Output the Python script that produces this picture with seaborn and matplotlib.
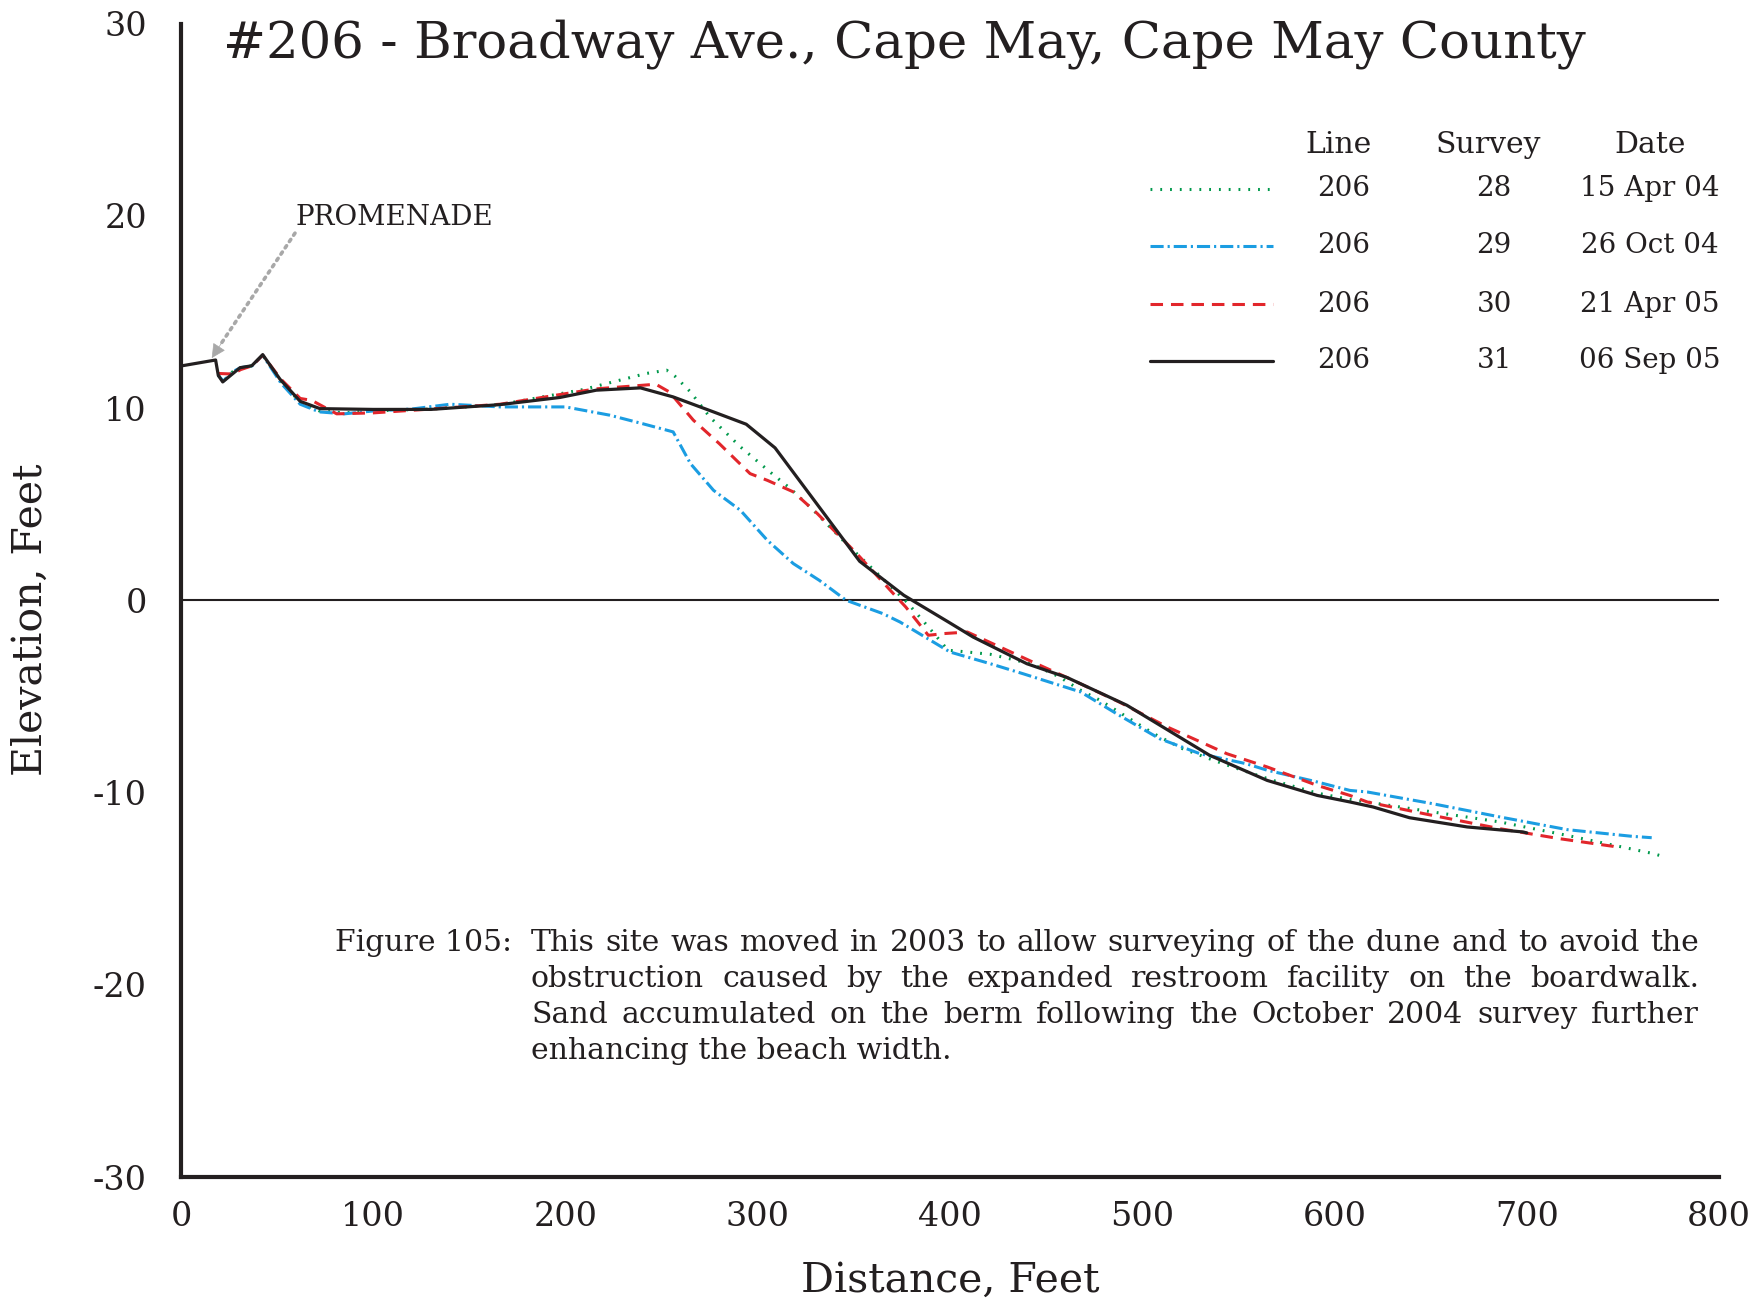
import matplotlib
matplotlib.use('Agg')
import matplotlib.pyplot as plt
import pandas as pd
import seaborn as sns

# Profile data (distance ft, elevation ft)
x_28 = [19.4, 22, 27, 31, 37, 42.5, 52, 62, 72, 85, 100, 130, 166, 209, 242, 252.6, 257, 265, 275, 291,
        308, 317, 329, 346, 357, 377.5, 391, 399, 404, 421, 431, 443, 457, 468, 478, 492, 506, 521, 537,
        547, 568, 591, 606, 617, 651, 686, 721, 766, 770]
y_28 = [11.7, 11.4, 11.9, 12.1, 12.2, 12.75, 11.4, 10.3, 9.85, 9.75, 9.85, 9.95, 10.18, 10.96, 11.8, 11.97,
        11.65, 10.84, 9.54, 7.98, 6.54, 5.81, 4.68, 2.95, 1.9, -0.09, -1.65, -2.6, -2.64, -2.81, -3.04,
        -3.33, -3.99, -4.68, -5.2, -6.07, -6.94, -7.72, -8.32, -8.67, -9.37, -10.03, -10.32, -10.49,
        -11.01, -11.53, -12.23, -13.18, -13.3]

x_29 = [19.4, 22, 27, 31, 37, 42.5, 52, 62, 72, 85, 100, 120, 140, 166, 200, 223, 240, 256, 265, 277,
        291, 305, 318.5, 332, 346, 365, 374, 384, 400, 421, 438, 468, 488, 509, 530, 554, 565, 591, 608,
        617, 651, 686, 721, 755, 765]
y_29 = [11.7, 11.4, 11.9, 12.1, 12.2, 12.75, 11.3, 10.2, 9.8, 9.7, 9.85, 9.95, 10.2, 10.06, 10.06, 9.63,
        9.19, 8.76, 7.11, 5.72, 4.68, 3.12, 1.91, 1.04, 0.0, -0.69, -1.13, -1.73, -2.69, -3.3, -3.82,
        -4.77, -5.98, -7.2, -7.98, -8.5, -8.84, -9.45, -9.89, -9.97, -10.58, -11.27, -11.93, -12.28, -12.35]

x_30 = [19.4, 27, 31, 37, 42.5, 52, 62, 68, 81, 100, 130, 166, 200, 216, 247, 254, 266.5, 280, 296, 305,
        318.5, 331, 351.5, 370.5, 377, 388.7, 397, 409, 426, 443, 464, 488, 513, 544, 565, 591, 608, 617,
        648, 686, 717, 745, 747]
y_30 = [11.8, 11.77, 12.0, 12.2, 12.75, 11.5, 10.5, 10.4, 9.7, 9.75, 9.95, 10.2, 10.75, 11.0, 11.24, 10.84,
        9.37, 8.15, 6.59, 6.24, 5.64, 4.51, 2.43, 0.35, -0.35, -1.82, -1.73, -1.65, -2.43, -3.21, -4.16,
        -5.29, -6.59, -7.98, -8.67, -9.63, -10.15, -10.49, -11.13, -11.88, -12.4, -12.8, -12.85]

x_31 = [0, 18, 19.4, 21.7, 30.7, 36.8, 42.5, 51.5, 62, 72.3, 100, 130, 166, 197, 216, 239, 256, 277, 294,
        309, 353, 376, 400, 412, 440, 461, 492, 535, 565, 591, 608, 620, 639, 669, 698, 700]
y_31 = [12.19, 12.5, 11.7, 11.36, 12.1, 12.2, 12.78, 11.5, 10.35, 9.97, 9.93, 9.93, 10.18, 10.55, 10.93,
        11.05, 10.58, 9.8, 9.16, 7.93, 2.03, 0.26, -1.18, -1.91, -3.3, -4.02, -5.46, -8.06, -9.37, -10.15,
        -10.49, -10.75, -11.31, -11.79, -12.05, -12.1]

surveys = ['28', '29', '30', '31']
dates = ['15 Apr 04', '26 Oct 04', '21 Apr 05', '06 Sep 05']
line_no = '206'
colors = ['#00994c', '#1b9de2', '#e2262b', '#231f20']
styles = [(0, (0.6, 2.6)), (0, (4.3, 1.3, 0.7, 1.3)), (0, (4.1, 2.6)), '-']
widths = [2.2, 2.2, 2.2, 2.3]

caption_lines = [
    'This site was moved in 2003 to allow surveying of the dune and to avoid the',
    'obstruction caused by the expanded restroom facility on the boardwalk.',
    'Sand accumulated on the berm following the October 2004 survey further',
    'enhancing the beach width.',
]

sns.set_style('white')
plt.rcParams['font.family'] = ['DejaVu Serif']
plt.rcParams['axes.unicode_minus'] = False
ink = '#231f20'

W, H = 1764, 1301
fig = plt.figure(figsize=(W / 100, H / 100), dpi=100)
ax = fig.add_axes([181 / W, 1 - 1177 / H, (1719 - 181) / W, (1177 - 23.6) / H])

series = [(x_28, y_28), (x_29, y_29), (x_30, y_30), (x_31, y_31)]
for (xs, ys), c, ls, lw in zip(series, colors, styles, widths):
    df = pd.DataFrame({'dist': xs, 'elev': ys})
    sns.lineplot(data=df, x='dist', y='elev', ax=ax, color=c, linewidth=lw,
                 linestyle=ls, estimator=None, sort=False)

ax.axhline(0, color=ink, linewidth=1.5, zorder=1)

ax.set_xlim(0, 800)
ax.set_ylim(-30, 30)
ax.set_xticks(range(0, 801, 100))
ax.set_yticks(range(-30, 31, 10))
for s in ['top', 'right']:
    ax.spines[s].set_visible(False)
for s in ['left', 'bottom']:
    ax.spines[s].set_color(ink)
    ax.spines[s].set_linewidth(3)
ax.tick_params(axis='y', direction='inout', length=29, width=1.3, color=ink,
               labelsize=24, pad=10, labelcolor=ink)
ax.tick_params(axis='x', direction='inout', length=22, width=1.3, color=ink,
               labelsize=24, pad=6, labelcolor=ink)
ax.yaxis.get_major_ticks()[0].tick1line.set_visible(False)
ax.xaxis.get_major_ticks()[0].tick1line.set_visible(False)
ax.set_xlabel('Distance, Feet', fontsize=29.5, color=ink, labelpad=20)
ax.set_ylabel('Elevation, Feet', fontsize=29.5, color=ink)
ax.yaxis.set_label_coords(-0.0845, 0.483)
ax.grid(False)

# title
fig.text(223 / W, 1 - 44 / H, '#206 - Broadway Ave., Cape May, Cape May County',
         fontsize=37, color=ink, ha='left', va='center')

# promenade annotation: dotted grey shaft + solid head
ax.text(59.3, 19.9, 'PROMENADE', fontsize=20, color=ink, ha='left', va='center')
ax.annotate('', xy=(20.5, 13.3), xytext=(59.3, 19.1),
            arrowprops=dict(arrowstyle='-', color='#a8a8a8', linestyle=(0, (0.7, 1.4)),
                            linewidth=2.6, shrinkA=0, shrinkB=0))
ax.annotate('', xy=(16, 12.6), xytext=(21.5, 13.45),
            arrowprops=dict(arrowstyle='-|>,head_length=0.9,head_width=0.45', color='#a8a8a8',
                            linewidth=0.5, shrinkA=0, shrinkB=0))

# legend table
tf = ax.transAxes
def ax_x(v):
    return v / 800
def ax_y(v):
    return (v + 30) / 60

hdr_y = 23.7
for label, xv in [('Line', 602), ('Survey', 680), ('Date', 764)]:
    ax.text(ax_x(xv), ax_y(hdr_y), label, transform=tf, fontsize=21.5, color=ink,
            ha='center', va='center')
row_y = [21.4, 18.45, 15.4, 12.45]
for i in range(4):
    yy = ax_y(row_y[i])
    ax.plot([ax_x(504), ax_x(568)], [yy, yy], transform=tf, color=colors[i],
            linestyle=styles[i], linewidth=widths[i])
    ax.text(ax_x(605), yy, line_no, transform=tf, fontsize=20, color=ink, ha='center', va='center')
    ax.text(ax_x(683), yy, surveys[i], transform=tf, fontsize=20, color=ink, ha='center', va='center')
    ax.text(ax_x(764), yy, dates[i], transform=tf, fontsize=20, color=ink, ha='center', va='center')

# caption, justified
renderer = fig.canvas.get_renderer()
cap_left, cap_right = 531, 1699
cap_y = [943, 979, 1015, 1051]
cap_fs = 21.5
fig.text(335 / W, 1 - cap_y[0] / H, 'Figure 105:', fontsize=cap_fs, color=ink, ha='left', va='center')
for k, line in enumerate(caption_lines):
    yy = 1 - cap_y[k] / H
    if k == len(caption_lines) - 1:
        fig.text(cap_left / W, yy, line, fontsize=cap_fs, color=ink, ha='left', va='center')
        continue
    words = line.split()
    texts = [fig.text(0, yy, w, fontsize=cap_fs, color=ink, ha='left', va='center') for w in words]
    wids = [t.get_window_extent(renderer).width for t in texts]
    gap = (cap_right - cap_left - sum(wids)) / (len(words) - 1)
    pos = cap_left
    for t, w in zip(texts, wids):
        t.set_x(pos / W)
        pos += w + gap

fig.savefig('out.png', dpi=100)
